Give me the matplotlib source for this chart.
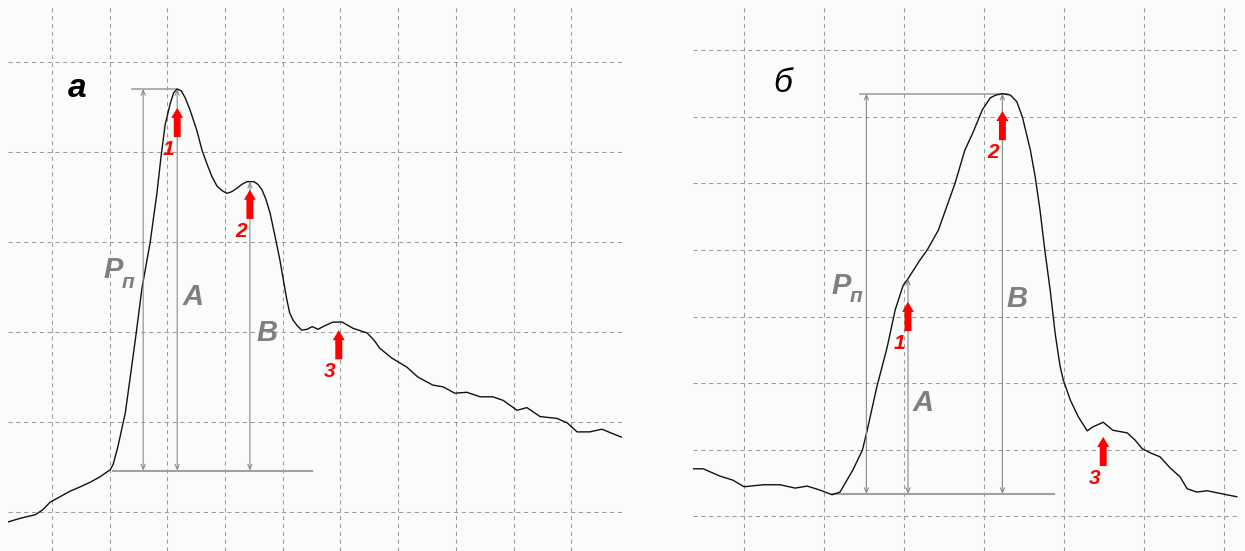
from __future__ import annotations

import matplotlib

matplotlib.use("Agg")
import matplotlib.pyplot as plt
import numpy as np

plt.rcParams["font.family"] = ["Liberation Sans", "DejaVu Sans"]

BG = "#fafcfa"
GRID = "#9c9c9c"
MEASURE = "#8a8a8a"
LABEL_GRAY = "#7f7f7f"

# panel "а": curve in grid units (one cell = one unit)
curve_a_x = [
    -0.76, -0.55, -0.29, -0.17, -0.03, 0.14, 0.31, 0.49, 0.66, 0.83, 1.01, 1.06,
    1.14, 1.27, 1.35, 1.46, 1.56, 1.70, 1.82, 1.89, 1.96, 2.05, 2.11, 2.17, 2.24,
    2.31, 2.39, 2.51, 2.60, 2.69, 2.77, 2.86, 2.95, 3.03, 3.12, 3.21, 3.29,
    3.38, 3.43, 3.50, 3.57, 3.64, 3.71, 3.78, 3.86, 3.95, 4.02, 4.07, 4.12, 4.18,
    4.25, 4.33, 4.42, 4.51, 4.61, 4.73, 4.87, 5.03, 5.22, 5.46, 5.58, 5.68, 5.89,
    6.15, 6.34, 6.60, 6.78, 6.98, 7.19, 7.42, 7.64, 7.82, 8.06, 8.23, 8.46, 8.75,
    8.93, 9.10, 9.32, 9.53, 9.76, 9.88,
]
curve_a_y = [
    -0.11, -0.07, -0.03, 0.02, 0.11, 0.17, 0.23, 0.28, 0.33, 0.39, 0.47, 0.53,
    0.72, 1.10, 1.47, 1.99, 2.49, 2.99, 3.55, 3.95, 4.30, 4.54, 4.66, 4.70, 4.68,
    4.60, 4.47, 4.24, 4.02, 3.86, 3.73, 3.62, 3.57, 3.54, 3.56, 3.60, 3.64,
    3.67, 3.67, 3.67, 3.64, 3.58, 3.47, 3.32, 3.08, 2.80, 2.54, 2.36, 2.21, 2.13,
    2.07, 2.02, 2.03, 2.06, 2.03, 2.07, 2.11, 2.11, 2.04, 1.99, 1.91, 1.82, 1.71,
    1.61, 1.50, 1.41, 1.39, 1.32, 1.33, 1.28, 1.28, 1.24, 1.13, 1.16, 1.06, 1.04,
    0.99, 0.89, 0.89, 0.92, 0.86, 0.83,
]

# panel "б"
curve_b_x = [
    -0.64, -0.51, -0.30, -0.14, 0.00, 0.24, 0.45, 0.64, 0.79, 0.95, 1.10, 1.20,
    1.36, 1.48, 1.54, 1.66, 1.79, 1.89, 1.99, 2.04, 2.20, 2.29, 2.43, 2.64, 2.76,
    2.86, 2.98, 3.08, 3.15, 3.23, 3.33, 3.41, 3.48, 3.58, 3.64, 3.70, 3.76, 3.83,
    3.89, 3.95, 3.99, 4.08, 4.18, 4.29, 4.36, 4.49, 4.61, 4.79, 4.89, 4.98, 5.08,
    5.20, 5.33, 5.45, 5.54, 5.66, 5.79, 5.99, 6.16,
]
curve_b_y = [
    0.71, 0.71, 0.60, 0.54, 0.44, 0.47, 0.47, 0.42, 0.45, 0.39, 0.32, 0.36, 0.69,
    0.99, 1.29, 1.94, 2.54, 3.10, 3.47, 3.55, 3.85, 4.00, 4.30, 5.01, 5.50, 5.76,
    6.11, 6.29, 6.33, 6.35, 6.33, 6.23, 6.00, 5.50, 5.10, 4.60, 4.00, 3.37, 2.74,
    2.26, 2.05, 1.74, 1.49, 1.28, 1.34, 1.41, 1.29, 1.25, 1.14, 1.01, 0.95, 0.89,
    0.72, 0.59, 0.41, 0.36, 0.38, 0.33, 0.29,
]

# measurement levels and positions (grid units)
base_a = 0.46
base_a_span = [1.06, 4.51]
top_a_span = [1.39, 2.17]
pp_a_x = 1.58
peak_a_x = [2.17, 3.43]  # A, B
arrow_a_x = [2.17, 3.43, 4.97]
arrow_a_tip = [4.49, 3.58, 2.02]

base_b = 0.33
base_b_span = [1.10, 3.88]
top_b_span = [1.45, 3.30]
pp_b_x = 1.53
peak_b_x = [2.05, 3.23]
arrow_b_x = [2.05, 3.23, 4.49]
arrow_b_tip = [3.22, 6.09, 1.19]

arrow_labels = ["1", "2", "3"]


def make_panel(fig, rect, xlim, ylim, nx, ny):
    ax = fig.add_axes(rect)
    ax.set_xlim(*xlim)
    ax.set_ylim(*ylim)
    ax.set_xticks(np.arange(nx))
    ax.set_yticks(np.arange(ny))
    ax.grid(True, color=GRID, linestyle=(0, (4, 3.5)), linewidth=0.75)
    ax.tick_params(length=0, labelbottom=False, labelleft=False)
    for s in ax.spines.values():
        s.set_visible(False)
    ax.set_facecolor(BG)
    ax.set_axisbelow(True)
    return ax


def measure(ax, x, y0, y1):
    ax.annotate("", xy=(x, y1), xytext=(x, y0),
                arrowprops=dict(arrowstyle="<->,head_length=0.35,head_width=0.15",
                                color=MEASURE, lw=0.8, shrinkA=0, shrinkB=0,
                                mutation_scale=10))


def red_arrow(ax, x, tip, label):
    ax.annotate("", xy=(x, tip), xytext=(0, -21), textcoords="offset points",
                xycoords="data",
                arrowprops=dict(arrowstyle="simple,head_length=0.72,head_width=0.86,tail_width=0.5",
                                fc="red", ec="none", shrinkA=0, shrinkB=0,
                                mutation_scale=10))
    ax.annotate(label, xy=(x, tip), xytext=(-6.5, -30), textcoords="offset points",
                ha="center", va="center", color="red", fontsize=15,
                fontweight="bold", fontstyle="italic")


def draw(ax, cx, cy, base, base_span, top_span, pp_x, peaks, ax_x, ax_tip):
    cx = np.asarray(cx)
    cy = np.asarray(cy)
    ax.plot(cx, cy, color="#111111", lw=1.0, zorder=3)
    top = cy.max()
    ax.plot(base_span, [base, base], color="#a0a0a0", lw=1.5, zorder=2)
    ax.plot(top_span, [top, top], color="#a0a0a0", lw=1.2, zorder=2)
    measure(ax, pp_x, base, top)
    for px in peaks:
        measure(ax, px, base, np.interp(px, cx, cy))
    for x, tip, lab in zip(ax_x, ax_tip, arrow_labels):
        red_arrow(ax, x, tip, lab)


def main() -> None:
    fig = plt.figure(figsize=(12.45, 5.51), dpi=100, facecolor=BG)

    ax_a = make_panel(fig, [8 / 1245, 0, 614 / 1245, 546 / 551],
                      (-0.7626, 9.879), (-0.4333, 5.633), 10, 6)
    draw(ax_a, curve_a_x, curve_a_y, base_a, base_a_span, top_a_span, pp_a_x,
         peak_a_x, arrow_a_x, arrow_a_tip)

    ax_b = make_panel(fig, [693 / 1245, 0, 547 / 1245, 546 / 551],
                      (-0.6375, 6.2), (-0.526, 7.684), 7, 8)
    draw(ax_b, curve_b_x, curve_b_y, base_b, base_b_span, top_b_span, pp_b_x,
         peak_b_x, arrow_b_x, arrow_b_tip)

    big = dict(color=LABEL_GRAY, fontsize=21, fontweight="bold", fontstyle="italic",
               ha="center", va="center")
    sub = dict(color=LABEL_GRAY, fontsize=15, fontweight="bold", fontstyle="italic",
               ha="center", va="center")

    # panel а labels
    ax_a.text(0.43, 4.71, "а", color="black", fontsize=24, fontweight="bold",
              fontstyle="italic", ha="center", va="center")
    ax_a.text(1.06, 2.69, "P", **big)
    ax_a.text(1.31, 2.55, "п", **sub)
    ax_a.text(2.44, 2.39, "A", **big)
    ax_a.text(3.73, 1.99, "B", **big)

    # panel б labels
    ax_b.text(0.48, 6.51, "б", color="black", fontsize=24, fontstyle="italic",
              ha="center", va="center")
    ax_b.text(1.21, 3.46, "P", **big)
    ax_b.text(1.40, 3.30, "п", **sub)
    ax_b.text(2.24, 1.70, "A", **big)
    ax_b.text(3.41, 3.26, "B", **big)

    fig.savefig("out.png", dpi=100, facecolor=BG)
    plt.close(fig)


if __name__ == "__main__":
    main()
